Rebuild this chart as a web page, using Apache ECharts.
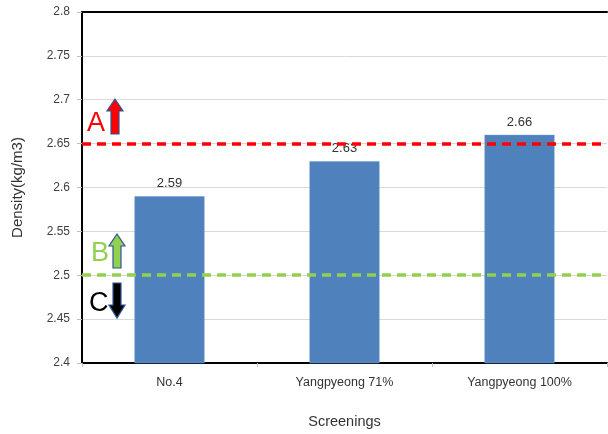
<!DOCTYPE html>
<html><head><meta charset="utf-8">
<script src="https://cdn.jsdelivr.net/npm/echarts@6/dist/echarts.min.js"></script>
<style>html,body{margin:0;padding:0;background:#fff}#c{width:608px;height:434px}</style>
</head><body><div id="c"></div>
<script>
var categories = ['No.4', 'Yangpyeong 71%', 'Yangpyeong 100%'];
var densities = [2.59, 2.63, 2.66];
var limitA = 2.65;
var limitB = 2.5;
var yTicks = { min: 2.4, max: 2.8, interval: 0.05 };

var chart = echarts.init(document.getElementById('c'), null, { renderer: 'canvas' });
var FONT = 'Liberation Sans, Arial, sans-serif';

function upArrow(cx, top, headBottom, bottom, fill) {
  return { type: 'polygon', z: 100,
    shape: { points: [[cx, top], [cx + 8, headBottom], [cx + 4, headBottom], [cx + 4, bottom], [cx - 4, bottom], [cx - 4, headBottom], [cx - 8, headBottom]] },
    style: { fill: fill, stroke: '#2f5597', lineWidth: 1.2 } };
}
function downArrow(cx, top, headTop, tip, fill) {
  return { type: 'polygon', z: 100,
    shape: { points: [[cx - 4, top], [cx + 4, top], [cx + 4, headTop], [cx + 8, headTop], [cx, tip], [cx - 8, headTop], [cx - 4, headTop]] },
    style: { fill: fill, stroke: '#2f5597', lineWidth: 1.2 } };
}
function letter(t, x, y, color) {
  return { type: 'text', z: 100, x: x, y: y,
    style: { text: t, fill: color, font: '27px ' + FONT, textVerticalAlign: 'middle', textAlign: 'left' } };
}

chart.setOption({
  animation: false,
  grid: { left: 82, right: 1, top: 12, bottom: 71 },
  xAxis: [{
    type: 'category', data: categories,
    name: 'Screenings', nameLocation: 'middle', nameGap: 51,
    nameTextStyle: { fontSize: 14.5, color: '#333', fontFamily: FONT },
    axisLine: { lineStyle: { color: '#000', width: 2 } },
    axisTick: { show: true, length: 4, lineStyle: { color: '#bfbfbf' } },
    axisLabel: { fontSize: 12.5, color: '#333', margin: 13, fontFamily: FONT }
  }, {
    type: 'value', position: 'top', min: 0, max: 1,
    axisLine: { show: true, onZero: false, lineStyle: { color: '#000', width: 2 } },
    axisTick: { show: false }, axisLabel: { show: false }, splitLine: { show: false }
  }],
  yAxis: {
    type: 'value', min: yTicks.min, max: yTicks.max, interval: yTicks.interval,
    name: 'Density(kg/m3)', nameLocation: 'middle', nameGap: 57,
    nameTextStyle: { fontSize: 15, color: '#333', fontFamily: FONT },
    axisLine: { show: true, lineStyle: { color: '#000', width: 2 } },
    axisTick: { show: true, length: 5, lineStyle: { color: '#bfbfbf' } },
    axisLabel: { fontSize: 12, color: '#404040', margin: 12, fontFamily: FONT,
      formatter: function (v) { return String(+v.toFixed(2)); } },
    splitLine: { lineStyle: { color: '#d9d9d9', width: 1 } }
  },
  series: [{
    type: 'bar', data: densities, barWidth: '40%', xAxisIndex: 0,
    itemStyle: { color: '#4f81bd', borderColor: '#6f9bd1', borderWidth: 0.5 },
    label: { show: true, position: 'top', distance: 6, fontSize: 13, color: '#333', fontFamily: FONT,
      formatter: function (p) { return p.value.toFixed(2); } },
    markLine: {
      symbol: 'none', silent: true, label: { show: false }, z: 10,
      data: [
        { yAxis: limitA, lineStyle: { color: '#ff0000', type: [9, 6], width: 3.5 } },
        { yAxis: limitB, lineStyle: { color: '#92d050', type: [9, 6], width: 3.5 } }
      ]
    }
  }],
  graphic: [
    letter('A', 87, 124, '#ff0000'),
    upArrow(115, 99, 111, 134, '#ff0000'),
    letter('B', 91, 254, '#92d050'),
    upArrow(117, 234, 246, 268, '#92d050'),
    letter('C', 89, 304, '#000000'),
    downArrow(117, 283, 305, 318, '#000000')
  ]
});
</script></body></html>
